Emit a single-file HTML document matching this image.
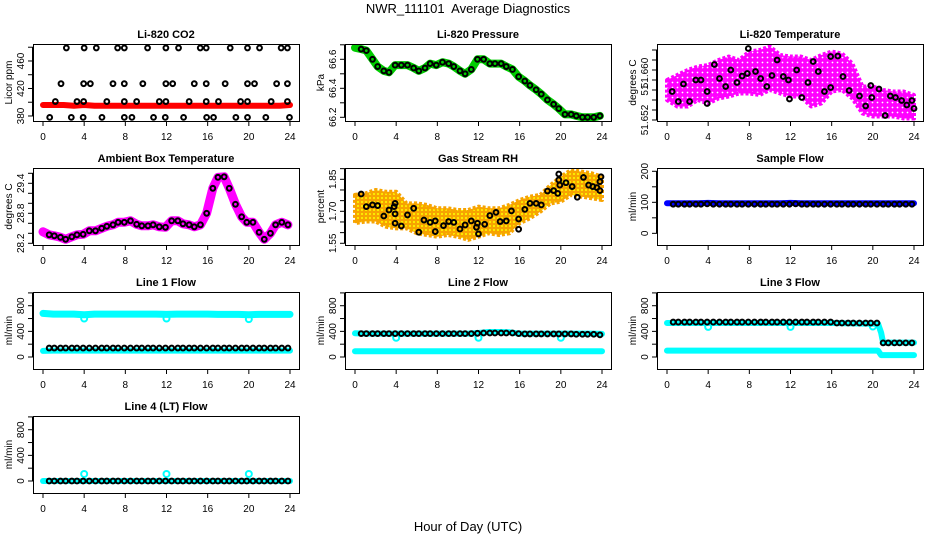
<!DOCTYPE html>
<html><head><meta charset="utf-8">
<style>
html,body{margin:0;padding:0;background:#fff;}
svg{display:block;font-family:"Liberation Sans",Arial,sans-serif;}
</style></head>
<body>
<svg id="chart" width="936" height="540" viewBox="0 0 936 540" xmlns="http://www.w3.org/2000/svg">
<defs>
<pattern id="rhpat" width="4" height="4" patternUnits="userSpaceOnUse">
<rect width="4" height="4" fill="#f7a400"/><circle cx="2" cy="2" r="1" fill="#ff0"/>
</pattern>
<pattern id="tpat" width="5" height="5" patternUnits="userSpaceOnUse">
<rect width="5" height="5" fill="#f0f"/><circle cx="2.5" cy="2.5" r="0.9" fill="#fff"/>
</pattern>
</defs>
<text x="468" y="13" text-anchor="middle" font-size="13" xml:space="preserve">NWR_111101  Average Diagnostics</text>
<text x="468" y="531" text-anchor="middle" font-size="13">Hour of Day (UTC)</text>
</svg>
<script>
// ---- data ----
const hours = [0.6,1.1,1.7,2.2,2.8,3.3,3.9,4.5,5.1,5.7,6.2,6.8,7.3,7.9,8.5,9.1,9.6,10.2,10.7,11.3,11.9,12.5,13.1,13.6,14.2,14.7,15.3,15.9,16.5,17.0,17.6,18.1,18.7,19.3,19.8,20.4,21.0,21.5,22.1,22.6,23.2,23.8];
const hourly = [0,1,2,3,4,5,6,7,8,9,10,11,12,13,14,15,16,17,18,19,20,21,22,23,24];
const xTicks = [0,4,8,12,16,20,24];

const co2Hours = [2.27,4.0,5.18,7.25,7.9,10.16,11.94,13.17,15.28,15.86,18.19,19.87,21.04,23.14,23.75,
 1.75,3.95,4.6,6.8,7.9,9.7,11.94,12.6,14.7,15.86,17.7,19.87,20.55,22.7,23.75,
 1.2,3.3,3.95,6.2,7.9,9.1,11.3,11.94,14.2,15.86,17.05,19.2,19.87,22.17,23.75,
 0.65,2.75,3.9,5.73,7.9,8.64,10.74,11.88,13.66,15.9,16.57,18.74,19.87,21.65,23.95];
const co2Values = [479,479,479,479,479,479,479,479,479,479,479,479,479,479,479,
 427,427,427,427,427,427,427,427,427,427,427,427,427,427,427,
 401,401,401,401,401,401,401,401,401,401,401,401,401,401,401,
 378,378,378,378,378,378,378,378,378,378,378,378,378,378,378];
const co2Red = [396,396,396,395,396,395,395,395,395,395,395,395,395,395,395,395,395,395,395,395,395,395,395,395,396];

const pressStart = [66.68];
const pressValues = [66.67,66.66,66.60,66.55,66.52,66.51,66.56,66.56,66.56,66.54,66.52,66.54,66.57,66.56,66.58,66.57,66.55,66.52,66.50,66.53,66.60,66.60,66.57,66.57,66.57,66.55,66.53,66.48,66.45,66.42,66.39,66.36,66.32,66.29,66.26,66.22,66.22,66.21,66.20,66.20,66.20,66.21];

const tempHours = [0.5,1.1,1.6,2.2,2.8,3.3,3.9,3.9,4.6,5.1,5.7,6.2,6.8,7.3,7.8,7.9,8.6,9.1,9.7,10.2,10.7,11.3,11.8,11.9,12.6,13.1,13.7,14.2,14.7,15.3,15.9,15.9,16.6,17.1,17.7,18.7,19.3,19.8,19.9,20.6,21.2,21.7,22.2,22.8,23.3,23.8,24];
const tempValues = [51.6577,51.6557,51.6592,51.6557,51.66,51.66,51.6577,51.6553,51.6631,51.6603,51.6587,51.662,51.6595,51.6608,51.6613,51.6663,51.6617,51.6603,51.6587,51.6609,51.664,51.6607,51.66,51.6562,51.662,51.6565,51.6595,51.6637,51.6617,51.6577,51.6647,51.6585,51.6648,51.6607,51.6579,51.6568,51.6548,51.6589,51.6565,51.6582,51.6529,51.6568,51.6565,51.6559,51.655,51.6559,51.6543];
const tempUpper = [51.66,51.661,51.662,51.6627,51.663,51.664,51.6647,51.664,51.6657,51.666,51.6667,51.665,51.6647,51.6647,51.664,51.665,51.6657,51.6653,51.6633,51.6587,51.6587,51.658,51.6577,51.6577,51.657];
const tempLower = [51.656,51.6547,51.6547,51.656,51.6553,51.6563,51.6567,51.6573,51.6573,51.657,51.658,51.6573,51.6567,51.6567,51.6547,51.6553,51.6577,51.658,51.6563,51.6533,51.6527,51.6527,51.6527,51.6523,51.6523];

const ambStart = [28.43];
const ambValues = [28.37,28.35,28.32,28.28,28.33,28.37,28.38,28.45,28.45,28.50,28.54,28.57,28.62,28.62,28.65,28.58,28.55,28.55,28.57,28.53,28.52,28.65,28.65,28.59,28.57,28.53,28.57,28.80,29.30,29.52,29.53,29.30,28.98,28.73,28.62,28.62,28.42,28.28,28.40,28.57,28.62,28.57];

const rhHours = [0.6,1.1,1.7,2.2,2.8,3.3,3.8,3.9,3.9,3.9,4.5,5.1,5.7,6.2,6.7,7.3,7.8,7.8,8.6,9.1,9.6,10.2,10.7,11.3,11.8,11.9,12,12.6,13.1,13.7,14.1,14.7,15.2,15.9,15.9,16.5,17,17.6,18.1,18.7,19.3,19.7,19.8,19.8,19.9,20.5,21.1,21.6,22.2,22.7,23.1,23.5,23.8,23.8,23.9];
const rhValues = [1.781,1.722,1.730,1.727,1.678,1.706,1.722,1.737,1.688,1.644,1.631,1.683,1.714,1.602,1.659,1.648,1.655,1.605,1.633,1.652,1.648,1.617,1.636,1.655,1.625,1.644,1.594,1.639,1.68,1.695,1.652,1.655,1.702,1.664,1.616,1.709,1.737,1.737,1.730,1.795,1.797,1.784,1.847,1.875,1.823,1.834,1.816,1.766,1.859,1.823,1.816,1.811,1.797,1.839,1.862];
const rhUpper = [1.777,1.784,1.80,1.792,1.792,1.737,1.737,1.730,1.714,1.714,1.706,1.706,1.722,1.714,1.714,1.730,1.753,1.769,1.777,1.823,1.862,1.894,1.886,1.878,1.862];
const rhLower = [1.644,1.652,1.652,1.628,1.620,1.620,1.597,1.589,1.581,1.589,1.581,1.566,1.581,1.597,1.589,1.597,1.644,1.667,1.698,1.737,1.745,1.777,1.769,1.761,1.753];

const sampleBlue = [97,97,97,97,98,97,97,97,97,97,97,97,98,97,97,97,97,97,97,97,97,97,97,97,97];
const sampleBlack = [94,94,94,94,94,94,95,94,94,94,94,94,94,94,94,94,94,94,94,94,94,95,94,94,94,94,94,94,94,94,94,94,94,94,94,94,94,94,94,94,94,94];

const l1CyanUpper = [680,670,670,670,660,670,670,670,670,670,670,670,665,670,670,670,670,665,665,665,660,665,665,665,665];
const l1CyanLower = [95,100,100,100,100,100,100,100,100,100,100,100,100,100,100,100,100,100,100,100,100,100,100,100,100];
const l1Black = [140,140,140,140,140,140,140,140,140,140,140,140,140,140,140,140,140,140,140,140,140,140,140,140,140,140,140,140,140,140,140,140,140,140,140,140,140,140,140,140,140,140];
const dipHours = [4,12,20];
const l1Dips = [600,600,590];

const l2CyanUpper = [370,365,365,365,365,365,365,365,365,365,365,365,375,390,390,385,365,365,365,365,365,365,365,365,360];
const l2CyanLower = [90,90,90,90,90,90,90,90,90,90,90,90,90,90,90,90,90,90,90,90,90,90,90,90,90];
const l2Black = [365,365,365,365,365,365,365,365,365,365,365,365,365,365,365,365,365,365,365,365,370,375,375,375,375,375,375,365,360,360,360,360,360,360,360,360,360,355,355,355,355,345];
const l2Dips = [300,300,300];

const l3CyanHours = [0,4,8,12,16,20,20.5,20.8,21,22,23,24];
const l3CyanUpper = [530,530,530,530,530,520,520,380,225,225,225,225];
const l3CyanLower = [100,100,100,100,100,100,100,30,30,30,30,30];
const l3Black = [545,545,545,545,545,545,545,545,545,545,545,545,545,545,545,545,545,545,545,545,545,545,545,545,545,545,545,545,530,530,530,530,530,530,530,530,220,220,220,220,220,220];
const l3Dips = [470,470,475];

const l4Cyan = [0,0,0,0,0,0,0,0,0,0,0,0,0,0,0,0,0,0,0,0,0,0,0,0,0];
const l4Black = [0,0,0,0,0,0,0,0,0,0,0,0,0,0,0,0,0,0,0,0,0,0,0,0,0,0,0,0,0,0,0,0,0,0,0,0,0,0,0,0,0,0];
const l4Spikes = [110,110,110];

// ---- drawing ----
const svg = document.getElementById('chart');
const NS = 'http://www.w3.org/2000/svg';
function mk(tag, attrs, parent){
  const e = document.createElementNS(NS, tag);
  for (const k in attrs) e.setAttribute(k, attrs[k]);
  (parent||svg).appendChild(e);
  return e;
}
const BW = 266, BH = 77;
function panel(name, col, row, yMin, yMax, yTicks, yLabels, yLabelVals, yTitle, title){
  const L = 33 + col*312, T = 44 + row*124;
  const g = mk('g', {});
  
  
  const p = {g, L, T,
    x: h => L + 10 + h*(247/24),
    y: v => T + BH - (v - yMin)/(yMax - yMin)*BH};
  const t = mk('text', {x: L+BW/2, y: T-6, 'text-anchor':'middle', 'font-size':'11', 'font-weight':'bold'}, g);
  t.textContent = title;
  
  
  const xa = mk('g', {stroke:'#000', 'stroke-width':'1'}, g);
  
  
  mk('line', {x1:p.x(0), x2:p.x(24), y1:T+BH+0.5, y2:T+BH+0.5}, xa);
  xTicks.forEach(v => {
    mk('line', {x1:p.x(v), x2:p.x(v), y1:T+BH, y2:T+BH+5}, xa);
    const tl = mk('text', {x:p.x(v), y:T+BH+19, 'text-anchor':'middle', 'font-size':'10', stroke:'none'}, xa);
    tl.textContent = v;
    
    
  });
  const ya = mk('g', {stroke:'#000', 'stroke-width':'1'}, g);
  
  
  mk('line', {x1:L-0.5, x2:L-0.5, y1:p.y(yTicks[0]), y2:p.y(yTicks[yTicks.length-1])}, ya);
  yTicks.forEach(v => mk('line', {x1:L-5, x2:L, y1:p.y(v), y2:p.y(v)}, ya));
  yLabels.forEach((s, i) => {
    const yy = p.y(yLabelVals[i]), xx = L-9;
    const tl = mk('text', {x:xx, y:yy, 'text-anchor':'middle', 'font-size':'10', stroke:'none', transform:`rotate(-90 ${xx} ${yy})`}, ya);
    tl.textContent = s;
    
    
  });
  const yt = mk('text', {x:L-21, y:T+BH/2, 'text-anchor':'middle', 'font-size':'10', transform:`rotate(-90 ${L-21} ${T+BH/2})`}, g);
  yt.textContent = yTitle;
  
  
  p.data = mk('g', {}, g);
  const clip = mk('clipPath', {id:'c'+name}, g);
  mk('rect', {x:L, y:T, width:BW, height:BH}, clip);
  p.data.setAttribute('clip-path', `url(#c${name})`);
  p.box = () => {
    const b = mk('rect', {x:L+0.5, y:T+0.5, width:BW, height:BH, fill:'none', stroke:'#000', 'stroke-width':'1'}, g);
    
    
  };
  return p;
}
function band(p, xs, ys, color, w, name){
  const d = xs.map((h,i)=>`${i?'L':'M'}${p.x(h).toFixed(1)},${p.y(ys[i]).toFixed(1)}`).join('');
  const e = mk('path', {d, fill:'none', stroke:color, 'stroke-width':w, 'stroke-linejoin':'round', 'stroke-linecap':'round'}, p.data);
  
  
}
function area(p, xs, up, lo, fill, edge, name){
  let d = xs.map((h,i)=>`${i?'L':'M'}${p.x(h).toFixed(1)},${p.y(up[i]).toFixed(1)}`).join('');
  for (let i = xs.length-1; i >= 0; i--) d += `L${p.x(xs[i]).toFixed(1)},${p.y(lo[i]).toFixed(1)}`;
  const e = mk('path', {d: d+'Z', fill, stroke:edge, 'stroke-width':'4', 'stroke-dasharray':'3 2', 'stroke-linejoin':'round'}, p.data);
  
  
}
function dots(p, xs, ys, color, name, r){
  xs.forEach((h,i) => {
    const c = mk('circle', {cx:p.x(h), cy:p.y(ys[i]), r:r||2.4, fill:'none', stroke:color, 'stroke-width':'2'}, p.data);
    
    
  });
}
function range(a,b,s){const r=[];for(let v=a;v<=b+1e-9;v+=s)r.push(+v.toFixed(4));return r;}

let p = panel('co2-panel',0,0,372.7,484.7,range(380,480,20),['380','420','460'],[380,420,460],'Licor ppm','Li-820 CO2');
band(p,hourly,co2Red,'#f00',6,'co2-red-series');
dots(p,co2Hours,co2Values,'#000','co2-point'); p.box();

p = panel('pressure-panel',1,0,66.1745,66.7055,range(66.2,66.7,0.1),['66.2','66.4','66.6'],[66.2,66.4,66.6],'kPa','Li-820 Pressure');
band(p,[0].concat(hours),pressStart.concat(pressValues),'#0c0',8,'pressure-green-series');
dots(p,hours,pressValues,'#000','pressure-point'); p.box();

p = panel('licor-temp-panel',2,0,51.6518,51.6672,range(51.652,51.666,0.002),['51.652','51','51.660'],[51.652,51.658,51.6614],'degrees C','Li-820 Temperature');
area(p,hourly,tempUpper,tempLower,'url(#tpat)','#f0f','licor-temp-cloud');
dots(p,tempHours,tempValues,'#000','licor-temp-point'); p.box();

p = panel('ambient-temp-panel',0,1,28.166,29.706,range(28.2,29.6,0.2),['28.2','28.8','29.4'],[28.2,28.8,29.4],'degrees C','Ambient Box Temperature');
band(p,[0].concat(hours),ambStart.concat(ambValues),'#f0f',9,'ambient-magenta-series');
dots(p,hours,ambValues,'#000','ambient-point'); p.box();

p = panel('rh-panel',1,1,1.542,1.903,range(1.55,1.90,0.05),['1.55','1.70','1.85'],[1.55,1.70,1.85],'percent','Gas Stream RH');
area(p,hourly,rhUpper,rhLower,'url(#rhpat)','#f7a400','rh-cloud');
dots(p,rhHours,rhValues,'#000','rh-point'); p.box();

p = panel('sample-flow-panel',2,1,-37.6,210.6,range(0,200,50),['0','100','200'],[0,100,200],'ml/min','Sample Flow');
band(p,hourly,sampleBlue,'#00f',6,'sample-blue-series');
dots(p,hours,sampleBlack,'#000','sample-point'); p.box();

const fTicks = range(0,1000,200), fLab = ['0','400','800'], fLabV = [0,400,800];
p = panel('line1-panel',0,2,-187,1014,fTicks,fLab,fLabV,'ml/min','Line 1 Flow');
band(p,hourly,l1CyanUpper,'#0ff',7,'line1-cyan-upper');
band(p,hourly,l1CyanLower,'#0ff',6,'line1-cyan-lower');
dots(p,dipHours,l1Dips,'#0ff','line1-dip',3);
dots(p,hours,l1Black,'#000','line1-point'); p.box();

p = panel('line2-panel',1,2,-187,1014,fTicks,fLab,fLabV,'ml/min','Line 2 Flow');
band(p,hourly,l2CyanUpper,'#0ff',6,'line2-cyan-upper');
band(p,hourly,l2CyanLower,'#0ff',6,'line2-cyan-lower');
dots(p,dipHours,l2Dips,'#0ff','line2-dip',3);
dots(p,hours,l2Black,'#000','line2-point'); p.box();

p = panel('line3-panel',2,2,-187,1014,fTicks,fLab,fLabV,'ml/min','Line 3 Flow');
band(p,l3CyanHours,l3CyanUpper,'#0ff',6,'line3-cyan-upper');
band(p,l3CyanHours,l3CyanLower,'#0ff',6,'line3-cyan-lower');
dots(p,dipHours,l3Dips,'#0ff','line3-dip',3);
dots(p,hours,l3Black,'#000','line3-point'); p.box();

p = panel('line4-panel',0,3,-187,1014,fTicks,fLab,fLabV,'ml/min','Line 4 (LT) Flow');
band(p,hourly,l4Cyan,'#0ff',6,'line4-cyan-series');
dots(p,dipHours,l4Spikes,'#0ff','line4-spike',3);
dots(p,hours,l4Black,'#000','line4-point'); p.box();
</script>
</body></html>
